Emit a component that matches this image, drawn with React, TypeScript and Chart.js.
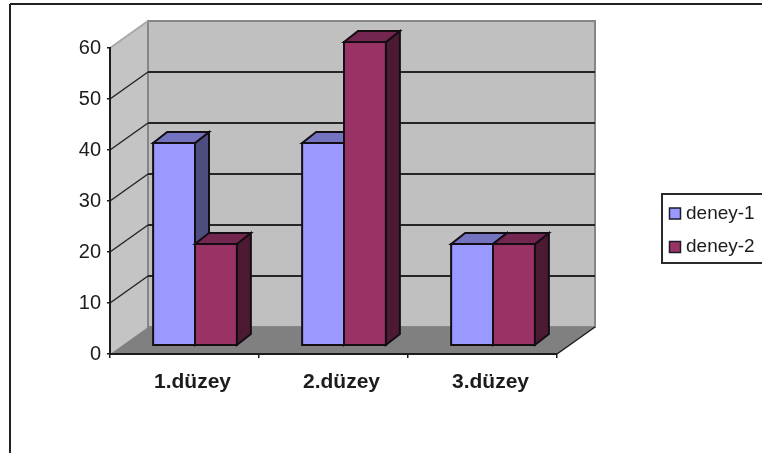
import React, { useEffect, useRef } from "react";
import { Chart, registerables } from "chart.js";

Chart.register(...registerables);

const categories = ["1.düzey", "2.düzey", "3.düzey"];
const deney1 = [40, 40, 20];
const deney2 = [20, 60, 20];

const seriesStyles = [
  { front: "#9999FF", top: "#7373BF", side: "#4D4D80" },
  { front: "#993366", top: "#732650", side: "#4D1A33" },
];

const FONT = '"Liberation Sans", Arial, sans-serif';
const INK = "#1c1c1c";

// Projection of the chart's depth axis onto the screen.
const WALL_DX = 38;
const WALL_DY = -27;
// Bars sit part-way into the floor and have a shallower depth of their own.
const BAR_SHIFT_X = 10.5;
const BAR_SHIFT_Y = -9;
const BAR_DX = 14;
const BAR_DY = -11;

function poly(ctx: CanvasRenderingContext2D, pts: number[][], fill?: string, stroke?: string, width = 2) {
  ctx.beginPath();
  pts.forEach(([x, y], i) => (i ? ctx.lineTo(x, y) : ctx.moveTo(x, y)));
  ctx.closePath();
  if (fill) {
    ctx.fillStyle = fill;
    ctx.fill();
  }
  if (stroke) {
    ctx.strokeStyle = stroke;
    ctx.lineWidth = width;
    ctx.lineJoin = "miter";
    ctx.stroke();
  }
}

function seg(ctx: CanvasRenderingContext2D, x1: number, y1: number, x2: number, y2: number, color: string, width: number) {
  ctx.beginPath();
  ctx.moveTo(x1, y1);
  ctx.lineTo(x2, y2);
  ctx.strokeStyle = color;
  ctx.lineWidth = width;
  ctx.stroke();
}

// Page frame, side wall, back wall, floor and their gridlines.
const wallsPlugin = {
  id: "walls",
  beforeDraw(chart: any) {
    const { ctx, chartArea: a, scales } = chart;
    ctx.save();
    seg(ctx, 10, 4, 10, chart.height, "#222222", 2);
    seg(ctx, 10, 4, chart.width, 4, "#222222", 2);

    const backL = a.left + WALL_DX;
    const backR = a.right + WALL_DX;
    const backT = a.top + WALL_DY;
    const backB = a.bottom + WALL_DY;

    poly(ctx, [[a.left, a.top], [backL, backT], [backL, backB], [a.left, a.bottom]], "#C4C4C4");
    poly(ctx, [[backL, backT], [backR, backT], [backR, backB], [backL, backB]], "#C0C0C0", "#868686", 2);
    seg(ctx, a.left, a.top, backL, backT, "#A8A8A8", 2);

    for (const v of scales.y.ticks.map((t: any) => t.value)) {
      const y = scales.y.getPixelForValue(v);
      if (v > 0 && v < 60) {
        seg(ctx, backL, y + WALL_DY, backR, y + WALL_DY, "#262626", 2);
        seg(ctx, a.left, y, backL, y + WALL_DY, "#262626", 1.5);
      }
    }

    poly(ctx, [[a.left, a.bottom], [a.right, a.bottom], [backR, backB], [backL, backB]], "#808080");
    seg(ctx, a.right, a.bottom, backR, backB, "#1c1c1c", 1.5);
    ctx.restore();
  },
  // Bars are painted as boxes in afterDatasetsDraw, so the flat ones are skipped.
  beforeDatasetDraw() {
    return false;
  },
  afterDatasetsDraw(chart: any) {
    const { ctx } = chart;
    ctx.save();
    categories.forEach((_, c) => {
      chart.data.datasets.forEach((_d: any, s: number) => {
        const bar = chart.getDatasetMeta(s).data[c];
        const st = seriesStyles[s];
        const l = bar.x - bar.width / 2 + BAR_SHIFT_X;
        const r = bar.x + bar.width / 2 + BAR_SHIFT_X;
        const t = bar.y + BAR_SHIFT_Y;
        const b = bar.base + BAR_SHIFT_Y;
        poly(ctx, [[r, t], [r + BAR_DX, t + BAR_DY], [r + BAR_DX, b + BAR_DY], [r, b]], st.side, "#140d14");
        poly(ctx, [[l, t], [l + BAR_DX, t + BAR_DY], [r + BAR_DX, t + BAR_DY], [r, t]], st.top, "#140d14");
        poly(ctx, [[l, t], [r, t], [r, b], [l, b]], st.front, "#140d14");
      });
    });
    ctx.restore();
  },
  // Legend box: open on the right, running off the edge of the canvas.
  afterDraw(chart: any) {
    const { ctx } = chart;
    ctx.save();
    ctx.beginPath();
    ctx.moveTo(chart.width, 194);
    ctx.lineTo(662, 194);
    ctx.lineTo(662, 263);
    ctx.lineTo(chart.width, 263);
    ctx.strokeStyle = "#2a2a2a";
    ctx.lineWidth = 2;
    ctx.stroke();
    ctx.font = `19px ${FONT}`;
    ctx.textBaseline = "middle";
    chart.data.datasets.forEach((d: any, i: number) => {
      const y = 213.5 + i * 33.5;
      poly(ctx, [[669.5, y - 5.5], [680.5, y - 5.5], [680.5, y + 5.5], [669.5, y + 5.5]], seriesStyles[i].front, "#1c1c2c", 1.5);
      ctx.fillStyle = INK;
      ctx.fillText(d.label, 686, y);
    });
    ctx.restore();
  },
};

export default function App() {
  const ref = useRef<HTMLCanvasElement>(null);
  useEffect(() => {
    document.body.style.margin = "0";
    const chart = new Chart(ref.current as HTMLCanvasElement, {
      type: "bar",
      data: {
        labels: categories,
        datasets: [
          { label: "deney-1", data: deney1, yAxisID: "depth", backgroundColor: seriesStyles[0].front },
          { label: "deney-2", data: deney2, yAxisID: "depth", backgroundColor: seriesStyles[1].front },
        ],
      },
      plugins: [wallsPlugin],
      options: {
        responsive: false,
        animation: false,
        events: [],
        layout: { padding: { left: 0, top: 48, right: 205, bottom: 0 } },
        datasets: { bar: { categoryPercentage: 0.562, barPercentage: 1 } },
        plugins: { legend: { display: false }, title: { display: false }, tooltip: { enabled: false } },
        scales: {
          x: {
            grid: { drawOnChartArea: false, color: INK, tickLength: 4, lineWidth: 1.5 },
            border: { color: INK, width: 2 },
            ticks: {
              color: INK,
              font: { family: FONT, size: 21, weight: "bold" },
              padding: 12,
              labelOffset: 8,
              maxRotation: 0,
            },
            afterFit(scale: any) {
              scale.height = 99;
            },
          },
          y: {
            min: 0,
            max: 60,
            grid: { drawOnChartArea: false, color: INK, tickLength: 3, lineWidth: 1.5 },
            border: { color: INK, width: 2 },
            ticks: { stepSize: 10, color: INK, font: { family: FONT, size: 20 }, padding: 6 },
            afterFit(scale: any) {
              scale.width = 110;
            },
          },
          // Bars stand further back than the axis plane, so they read slightly shorter.
          depth: { type: "linear", display: false, min: 0, max: 60.6 },
        },
      },
    } as any);
    return () => chart.destroy();
  }, []);
  return <canvas ref={ref} width={762} height={453} style={{ display: "block" }} />;
}
